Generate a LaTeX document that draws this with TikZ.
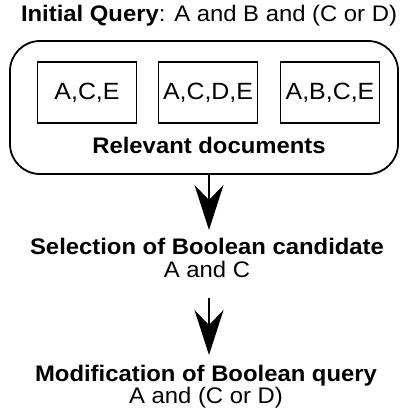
\documentclass[tikz,border=0pt]{standalone}
\usepackage{fontspec}
\setmainfont{Liberation Sans}[FakeStretch=1.06]
\usetikzlibrary{arrows.meta}
\tikzset{
  frame/.style={draw, line width=1.8pt, rounded corners=30pt},
  docbox/.style={draw, line width=1.8pt, minimum width=99pt, minimum height=61pt, inner sep=0pt, font=\fontsize{23.5}{26}\selectfont},
  txt/.style={anchor=base, inner sep=0pt, font=\fontsize{22.5}{26}\selectfont},
  btxt/.style={anchor=base, inner sep=0pt, font=\fontsize{22.5}{26}\selectfont\bfseries},
  flow/.style={line width=2pt, -{Stealth[length=45pt, width=29pt, inset=15pt]}}
}
\begin{document}
\begin{tikzpicture}[x=1pt, y=-1pt]
\useasboundingbox (0,0) rectangle (404,420);
\node[txt] (title) at (209,22) {\textbf{Initial Query}: A and B and (C or D)};
\node[frame, minimum width=388pt, minimum height=133pt] (rel) at (204,107.5) {};
\node[docbox] (d1) at (87,92.5) {A,C,E};
\node[docbox] (d2) at (208,92.5) {A,C,D,E};
\node[docbox] (d3) at (330,92.5) {A,B,C,E};
\node[btxt] (reltxt) at (209,153) {Relevant documents};
\node[btxt] (sel) at (207,254) {Selection of Boolean candidate};
\node[txt] (selq) at (207,277) {A and C};
\node[btxt] (mod) at (206,381) {Modification of Boolean query};
\node[txt] (modq) at (206,403) {A and (C or D)};
\coordinate (t1) at (209,230);
\coordinate (s2) at (209,298);
\coordinate (t2) at (209,355);
\draw[flow] (rel.south -| t1) -- (t1);
\draw[flow] (s2) -- (t2);
\end{tikzpicture}
\end{document}
